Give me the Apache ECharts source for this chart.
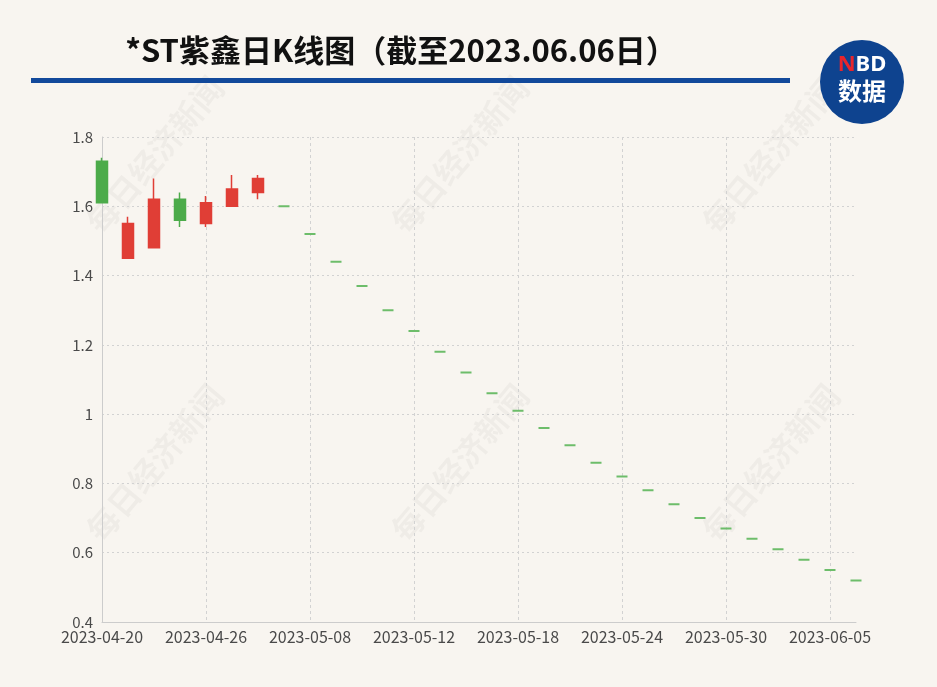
<!DOCTYPE html>
<html>
<head>
<meta charset="utf-8">
<script src="https://cdn.jsdelivr.net/npm/echarts@6/dist/echarts.min.js"></script>
<style>
html,body{margin:0;padding:0;background:#f8f5f0;}
#c{width:937px;height:687px;}
</style>
</head>
<body>
<div id="c"></div>
<script>
const titleText = '*ST紫鑫日K线图（截至2023.06.06日）';
const dates = ['2023-04-20','2023-04-21','2023-04-24','2023-04-25','2023-04-26','2023-04-27','2023-04-28','2023-05-05',
  '2023-05-08','2023-05-09','2023-05-10','2023-05-11','2023-05-12','2023-05-15','2023-05-16','2023-05-17',
  '2023-05-18','2023-05-19','2023-05-22','2023-05-23','2023-05-24','2023-05-25','2023-05-26','2023-05-29',
  '2023-05-30','2023-05-31','2023-06-01','2023-06-02','2023-06-05','2023-06-06'];
const opens  = [1.73,1.45,1.48,1.62,1.55,1.60,1.64,1.60,1.52,1.44,1.37,1.30,1.24,1.18,1.12,1.06,1.01,0.96,0.91,0.86,0.82,0.78,0.74,0.70,0.67,0.64,0.61,0.58,0.55,0.52];
const closes = [1.61,1.55,1.62,1.56,1.61,1.65,1.68,1.60,1.52,1.44,1.37,1.30,1.24,1.18,1.12,1.06,1.01,0.96,0.91,0.86,0.82,0.78,0.74,0.70,0.67,0.64,0.61,0.58,0.55,0.52];
const lows   = [1.61,1.45,1.48,1.54,1.54,1.60,1.62,1.60,1.52,1.44,1.37,1.30,1.24,1.18,1.12,1.06,1.01,0.96,0.91,0.86,0.82,0.78,0.74,0.70,0.67,0.64,0.61,0.58,0.55,0.52];
const highs  = [1.74,1.57,1.68,1.64,1.63,1.69,1.69,1.60,1.52,1.44,1.37,1.30,1.24,1.18,1.12,1.06,1.01,0.96,0.91,0.86,0.82,0.78,0.74,0.70,0.67,0.64,0.61,0.58,0.55,0.52];
const yMin = 0.4, yMax = 1.8, yStep = 0.2;
const watermark = '每日经济新闻';

const kData = dates.map((d, i) => {
  const v = [opens[i], closes[i], lows[i], highs[i]];
  const flat = opens[i] === closes[i] && lows[i] === highs[i];
  return flat ? { value: v, itemStyle: { borderWidth: 2, borderColor0: '#6dbd6a', color0: '#6dbd6a' } } : v;
});

const wmPos = [[155,155],[460,155],[771,155],[155,463],[460,463],[771,463]];
const wmGraphics = wmPos.map(p => ({
  type: 'text', x: p[0], y: p[1], rotation: Math.PI * 50 / 180, z: 0,
  style: { text: watermark, fontSize: 32, fontWeight: 'bold', fontFamily: 'Noto Sans CJK SC',
    fill: 'rgba(0,0,0,0.035)', align: 'center', verticalAlign: 'middle' }
}));

const chart = echarts.init(document.getElementById('c'));
chart.setOption({
  backgroundColor: '#f8f5f0',
  animation: false,
  graphic: wmGraphics.concat([
    { type: 'text', x: 401, y: 50, z: 10,
      style: { text: titleText, fontSize: 31, fontWeight: 'bold', fontFamily: 'Noto Sans CJK SC',
        fill: '#111', align: 'center', verticalAlign: 'middle' } },
    { type: 'rect', shape: { x: 31, y: 78, width: 759, height: 5 }, style: { fill: '#12499b' }, z: 10 },
    { type: 'circle', shape: { cx: 862, cy: 82, r: 42 }, style: { fill: '#0e438f' }, z: 10 },
    { type: 'text', x: 862, y: 65, z: 11,
      style: { text: '{n|N}{w|BD}', align: 'center', verticalAlign: 'middle',
        rich: { n: { fill: '#e8252c', fontSize: 22, fontWeight: 'bold', fontFamily: 'Noto Sans' },
                w: { fill: '#ffffff', fontSize: 22, fontWeight: 'bold', fontFamily: 'Noto Sans' } } } },
    { type: 'text', x: 862, y: 91, z: 11,
      style: { text: '数据', fill: '#ffffff', fontSize: 24, fontWeight: 'bold', fontFamily: 'Noto Sans CJK SC',
        align: 'center', verticalAlign: 'middle' } }
  ]),
  grid: { left: 102, right: 81, top: 137, bottom: 65 },
  xAxis: {
    type: 'category', data: dates, boundaryGap: false,
    axisLine: { show: true, lineStyle: { color: '#cccccc', width: 1 } },
    axisTick: { show: false },
    axisLabel: { interval: 3, color: '#4a4a4a', fontSize: 16, fontFamily: 'Noto Sans CJK SC', margin: 7 },
    splitLine: { show: true, interval: 3, lineStyle: { color: '#d2d2d2', type: [3, 3], width: 1 } }
  },
  yAxis: {
    type: 'value', min: yMin, max: yMax, interval: yStep,
    axisLine: { show: true, lineStyle: { color: '#cccccc', width: 1 } },
    axisTick: { show: false },
    axisLabel: { color: '#4a4a4a', fontSize: 15, fontFamily: 'Noto Sans CJK SC', margin: 9 },
    splitLine: { show: true, lineStyle: { color: '#d2d2d2', type: [2, 3], width: 1 } }
  },
  series: [{
    type: 'candlestick', data: kData, barWidth: 12,
    itemStyle: { color: '#e03e36', color0: '#4cab4a', borderColor: '#e03e36', borderColor0: '#4cab4a', borderWidth: 1.5 }
  }]
});
</script>
</body>
</html>
